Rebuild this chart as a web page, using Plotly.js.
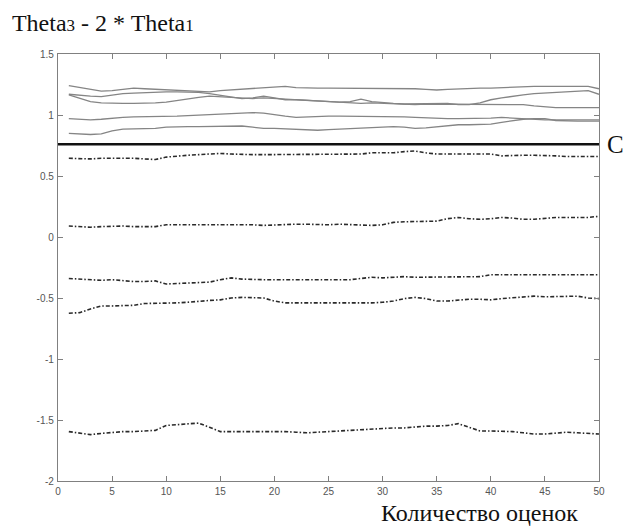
<!DOCTYPE html>
<html>
<head>
<meta charset="utf-8">
<script src="https://cdn.plot.ly/plotly-3.0.1.min.js"></script>
<style>
html,body{margin:0;padding:0;background:#fff;}
#chart{width:629px;height:528px;}
</style>
</head>
<body>
<div id="chart"></div>
<script>
// x values: number of estimates
const xValues = [1,2,3,4,5,6,7,8,9,10,11,12,13,14,15,16,17,18,19,20,21,22,23,24,25,26,27,28,29,30,31,32,33,34,35,36,37,38,39,40,41,42,43,44,45,46,47,48,49,50];

// solid gray series (upper group)
const solidA = [1.24,1.225,1.205,1.195,1.2,1.21,1.22,1.215,1.21,1.205,1.2,1.195,1.19,1.19,1.2,1.205,1.21,1.215,1.22,1.225,1.235,1.225,1.22,1.22,1.22,1.22,1.22,1.22,1.22,1.22,1.22,1.215,1.215,1.21,1.205,1.21,1.215,1.22,1.22,1.22,1.225,1.23,1.23,1.235,1.235,1.235,1.235,1.23,1.235,1.215];
const solidB = [1.17,1.16,1.155,1.15,1.165,1.175,1.18,1.185,1.19,1.19,1.19,1.19,1.185,1.175,1.16,1.145,1.135,1.14,1.155,1.14,1.125,1.125,1.12,1.115,1.11,1.105,1.11,1.13,1.11,1.1,1.095,1.09,1.09,1.09,1.09,1.095,1.085,1.085,1.1,1.125,1.14,1.155,1.165,1.175,1.18,1.19,1.19,1.195,1.2,1.17];
const solidC = [1.165,1.135,1.11,1.1,1.095,1.095,1.095,1.095,1.1,1.105,1.12,1.135,1.145,1.155,1.15,1.14,1.135,1.135,1.14,1.135,1.125,1.12,1.115,1.11,1.105,1.1,1.1,1.095,1.1,1.095,1.09,1.085,1.085,1.09,1.09,1.09,1.085,1.085,1.09,1.09,1.09,1.09,1.085,1.075,1.065,1.06,1.06,1.06,1.06,1.06];
const solidD = [0.97,0.965,0.96,0.965,0.975,0.98,0.985,0.985,0.99,0.99,0.99,0.995,1.0,1.005,1.01,1.01,1.015,1.02,1.015,1.0,0.99,0.98,0.985,0.99,0.99,0.99,0.99,0.99,0.99,0.99,0.99,0.985,0.98,0.975,0.97,0.97,0.97,0.97,0.97,0.975,0.98,0.975,0.965,0.96,0.96,0.96,0.96,0.96,0.96,0.96];
const solidE = [0.85,0.845,0.84,0.845,0.87,0.885,0.885,0.885,0.89,0.9,0.905,0.905,0.905,0.905,0.905,0.91,0.91,0.9,0.89,0.89,0.885,0.88,0.88,0.875,0.88,0.885,0.89,0.89,0.895,0.9,0.905,0.9,0.89,0.895,0.905,0.915,0.92,0.92,0.92,0.925,0.94,0.955,0.965,0.97,0.97,0.955,0.95,0.95,0.95,0.95];

// threshold line C
const cX = [0, 50];
const cValue = [0.76, 0.76];

// dash-dot series (lower group)
const dashA = [0.645,0.64,0.64,0.645,0.645,0.65,0.645,0.64,0.635,0.655,0.665,0.67,0.675,0.68,0.685,0.68,0.675,0.675,0.675,0.675,0.68,0.68,0.675,0.675,0.675,0.675,0.675,0.68,0.69,0.69,0.69,0.7,0.705,0.69,0.68,0.68,0.68,0.68,0.685,0.68,0.665,0.67,0.67,0.67,0.67,0.665,0.66,0.66,0.66,0.66];
const dashB = [0.09,0.085,0.08,0.085,0.09,0.09,0.085,0.085,0.085,0.1,0.1,0.105,0.105,0.1,0.1,0.105,0.105,0.1,0.095,0.1,0.105,0.105,0.105,0.1,0.1,0.105,0.1,0.095,0.095,0.1,0.12,0.125,0.125,0.125,0.13,0.15,0.16,0.15,0.145,0.15,0.16,0.155,0.145,0.145,0.155,0.16,0.16,0.16,0.16,0.17];
const dashC = [-0.34,-0.345,-0.355,-0.355,-0.35,-0.36,-0.365,-0.365,-0.36,-0.385,-0.38,-0.375,-0.375,-0.37,-0.35,-0.335,-0.345,-0.35,-0.35,-0.35,-0.35,-0.355,-0.35,-0.35,-0.35,-0.35,-0.35,-0.34,-0.33,-0.335,-0.33,-0.325,-0.33,-0.33,-0.33,-0.33,-0.33,-0.33,-0.325,-0.31,-0.31,-0.315,-0.31,-0.31,-0.31,-0.31,-0.31,-0.31,-0.31,-0.31];
const dashD = [-0.625,-0.62,-0.59,-0.565,-0.565,-0.565,-0.56,-0.545,-0.545,-0.54,-0.54,-0.535,-0.525,-0.52,-0.515,-0.5,-0.495,-0.495,-0.5,-0.525,-0.54,-0.54,-0.54,-0.545,-0.545,-0.545,-0.545,-0.545,-0.54,-0.535,-0.525,-0.505,-0.495,-0.505,-0.525,-0.525,-0.515,-0.51,-0.51,-0.515,-0.505,-0.5,-0.49,-0.485,-0.49,-0.49,-0.49,-0.485,-0.5,-0.505];
const dashE = [-1.595,-1.605,-1.62,-1.61,-1.6,-1.595,-1.595,-1.59,-1.585,-1.545,-1.54,-1.535,-1.525,-1.56,-1.595,-1.595,-1.595,-1.595,-1.595,-1.59,-1.595,-1.6,-1.605,-1.6,-1.595,-1.59,-1.58,-1.575,-1.575,-1.57,-1.565,-1.565,-1.555,-1.55,-1.55,-1.545,-1.53,-1.56,-1.59,-1.59,-1.59,-1.595,-1.605,-1.615,-1.615,-1.61,-1.6,-1.605,-1.61,-1.615];

const xTicks = [0,5,10,15,20,25,30,35,40,45,50];
const yTicks = [1.5,1,0.5,0,-0.5,-1,-1.5,-2];
const yTickLabels = ['1.5','1','0.5','0','-0.5','-1','-1.5','-2'];

const titleText = 'Theta<span style="font-size:17px">3</span> - 2 * Theta<span style="font-size:17px">1</span>';
const xTitleText = 'Количество оценок';
const cLabel = 'C';

const solidSeries = [solidA, solidB, solidC, solidD, solidE];
const dashSeries = [dashA, dashB, dashC, dashD, dashE];

const traces = [];
solidSeries.forEach(s => traces.push({
  x: xValues, y: s, type: 'scatter', mode: 'lines',
  line: {color: '#858585', width: 1.3}, hoverinfo: 'skip'
}));
dashSeries.forEach(s => traces.push({
  x: xValues, y: s, type: 'scatter', mode: 'lines',
  line: {color: '#2a2a2a', width: 1.6, dash: '4px,2px,1.5px,2px'}, hoverinfo: 'skip'
}));
traces.push({
  x: cX, y: cValue, type: 'scatter', mode: 'lines',
  line: {color: '#111', width: 2.4}, hoverinfo: 'skip'
});

const axisCommon = {
  showgrid: false, zeroline: false, showline: true, linecolor: '#808080', linewidth: 1.2,
  ticks: 'inside', ticklen: 5, tickcolor: '#808080', mirror: 'ticks',
  tickfont: {family: 'Liberation Sans, Arial, sans-serif', size: 10, color: '#555'}
};

const layout = {
  width: 629, height: 528,
  margin: {l: 58, r: 30, t: 54, b: 47},
  paper_bgcolor: '#fff', plot_bgcolor: '#fff',
  showlegend: false,
  title: {text: titleText, x: 0.019, xanchor: 'left', y: 0.958, yanchor: 'middle',
          font: {family: 'Liberation Serif, Times New Roman, serif', size: 24, color: '#111'}},
  xaxis: Object.assign({}, axisCommon, {range: [0, 50], tickvals: xTicks, ticklabelstandoff: 1}),
  yaxis: Object.assign({}, axisCommon, {range: [-2, 1.5], tickvals: yTicks, ticktext: yTickLabels, ticklabelstandoff: 1}),
  annotations: [
    {text: xTitleText, xref: 'paper', yref: 'paper', x: 0.78, y: -0.076, xanchor: 'center', yanchor: 'middle',
     showarrow: false, font: {family: 'Liberation Serif, Times New Roman, serif', size: 24, color: '#111'}},
    {text: cLabel, xref: 'paper', yref: 'y', x: 1.012, y: 0.76, xanchor: 'left', yanchor: 'middle',
     showarrow: false, font: {family: 'Liberation Serif, Times New Roman, serif', size: 25, color: '#111'}}
  ]
};

Plotly.newPlot('chart', traces, layout, {staticPlot: true, displayModeBar: false});
</script>
</body>
</html>
